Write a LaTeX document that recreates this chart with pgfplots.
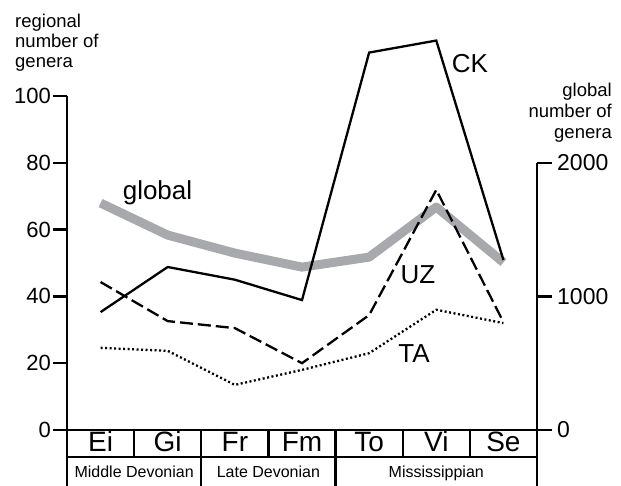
\documentclass[border=0pt]{standalone}
\usepackage{fontspec}
\setmainfont{Liberation Sans}
\usepackage{pgfplots}
\pgfplotsset{compat=1.18}
\definecolor{globalgray}{RGB}{167,169,172}
\begin{document}
\begin{tikzpicture}[x=1pt,y=1pt]
\path[use as bounding box] (0,0) rectangle (621,486);
% right axis: global number of genera
\begin{axis}[
  at={(67pt,56pt)}, anchor=south west, scale only axis,
  width=470pt, height=267pt,
  xmin=-0.5, xmax=6.5, ymin=0, ymax=2000,
  axis x line=none, axis y line*=right,
  axis line style={line width=2.5pt,-},
  ytick={0,1000,2000},
  scaled y ticks=false,
  tick align=outside, major tick length=15pt,
  tick style={line width=2.4pt,black},
  yticklabel style={font=\fontsize{23}{26}\selectfont, inner sep=2pt, xshift=3pt},
  /pgf/number format/assume math mode=true,
  /pgf/number format/set thousands separator={},
  clip=false,
]
\addplot[globalgray, line width=9pt, line join=round] coordinates {
  (0,1700) (1,1460) (2,1325) (3,1220) (4,1295) (5,1670) (6,1255)};
\end{axis}
% left axis: regional number of genera
\begin{axis}[
  at={(67pt,56pt)}, anchor=south west, scale only axis,
  width=470pt, height=334pt,
  xmin=-0.5, xmax=6.5, ymin=0, ymax=100,
  axis x line*=bottom, axis y line*=left,
  axis line style={line width=2.5pt,-},
  ytick={0,20,...,100},
  xtick={0,...,6},
  xticklabels={Ei,Gi,Fr,Fm,To,Vi,Se},
  x tick style={draw=none},
  xticklabel style={font=\fontsize{28}{30}\selectfont, anchor=base, yshift=-8pt},
  tick align=outside, major tick length=14pt,
  tick style={line width=2.4pt,black},
  yticklabel style={font=\fontsize{22}{26}\selectfont, inner sep=2pt},
  /pgf/number format/assume math mode=true,
  clip=false,
]
\addplot[black, line width=2.3pt] coordinates {
  (0,35.3) (1,48.8) (2,45) (3,38.9) (4,113) (5,116.6) (6,50.9)};
\addplot[black, line width=2.3pt, dash pattern=on 13pt off 5pt] coordinates {
  (0,44.3) (1,32.6) (2,30.5) (3,20) (4,34.4) (5,71.9) (6,32.3)};
\addplot[black, line width=2.3pt, dash pattern=on 2pt off 2.5pt] coordinates {
  (0,24.6) (1,23.7) (2,13.5) (3,18) (4,23) (5,36) (6,32)};
% table below the axis
\draw[line width=2.4pt] ([yshift=-27pt]axis cs:-0.5,0) -- ([yshift=-27pt]axis cs:6.5,0);
\draw[line width=2.5pt] (axis cs:-0.5,0) -- ([yshift=-56pt]axis cs:-0.5,0);
\draw[line width=2.5pt] (axis cs:6.5,0) -- ([yshift=-56pt]axis cs:6.5,0);
\draw[line width=2.4pt] (axis cs:0.5,0) -- ([yshift=-27pt]axis cs:0.5,0);
\draw[line width=2.4pt] (axis cs:1.5,0) -- ([yshift=-56pt]axis cs:1.5,0);
\draw[line width=2.4pt] (axis cs:2.5,0) -- ([yshift=-27pt]axis cs:2.5,0);
\draw[line width=2.4pt] (axis cs:3.5,0) -- ([yshift=-56pt]axis cs:3.5,0);
\draw[line width=2.4pt] (axis cs:4.5,0) -- ([yshift=-27pt]axis cs:4.5,0);
\draw[line width=2.4pt] (axis cs:5.5,0) -- ([yshift=-27pt]axis cs:5.5,0);
\node[anchor=base, font=\fontsize{16}{18}\selectfont] at ([yshift=-48pt]axis cs:0.5,0) {Middle Devonian};
\node[anchor=base, font=\fontsize{16}{18}\selectfont] at ([yshift=-48pt]axis cs:2.5,0) {Late Devonian};
\node[anchor=base, font=\fontsize{16}{18}\selectfont] at ([yshift=-48pt]axis cs:5,0) {Mississippian};
\end{axis}
% series labels
\node[font=\fontsize{26}{30}\selectfont] at (157.5,293.5) {global};
\node[font=\fontsize{26}{30}\selectfont] at (470,422) {CK};
\node[font=\fontsize{26}{30}\selectfont] at (418,211) {UZ};
\node[font=\fontsize{26}{30}\selectfont] at (414,132) {TA};
% axis titles
\node[anchor=base west, font=\fontsize{18.5}{20}\selectfont, inner sep=0pt] at (15,458) {regional};
\node[anchor=base west, font=\fontsize{18.5}{20}\selectfont, inner sep=0pt] at (15,438) {number of};
\node[anchor=base west, font=\fontsize{18.5}{20}\selectfont, inner sep=0pt] at (15,418) {genera};
\node[anchor=base east, font=\fontsize{18.5}{20}\selectfont, inner sep=0pt] at (612,389) {global};
\node[anchor=base east, font=\fontsize{18.5}{20}\selectfont, inner sep=0pt] at (612,368) {number of};
\node[anchor=base east, font=\fontsize{18.5}{20}\selectfont, inner sep=0pt] at (612,347) {genera};
\end{tikzpicture}
\end{document}
